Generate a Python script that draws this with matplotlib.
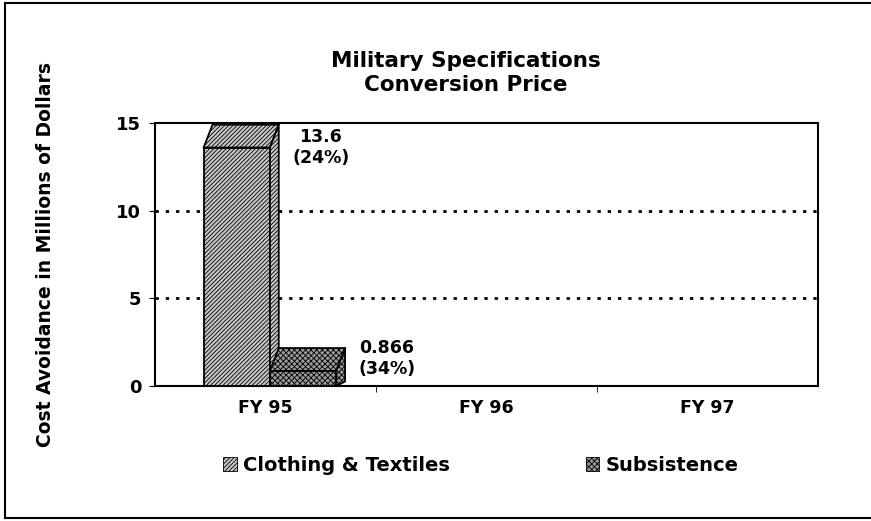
import matplotlib
matplotlib.use('Agg')
import matplotlib.pyplot as plt
from matplotlib.patches import Polygon
from matplotlib.lines import Line2D
import numpy as np

# data
years = ['FY 95', 'FY 96', 'FY 97']
clothing = [13.6, 0, 0]
subsistence = [0.866, 0, 0]
clothing_lbl = ['13.6\n(24%)', '', '']
subsist_lbl = ['0.866\n(34%)', '', '']
yticks = [0, 5, 10, 15]

plt.rcParams['font.family'] = 'DejaVu Sans'
plt.rcParams['hatch.linewidth'] = 0.6

fig = plt.figure(figsize=(8.71, 5.21), dpi=100)
ax = fig.add_axes([0.178, 0.259, 0.761, 0.505])

x = np.arange(len(years)) + 0.5
w = 0.3
dx, dy = 0.04, 1.3   # fake 3d depth

def bar3d(xs, vals, fc, hatch):
    for xi, v in zip(xs, vals):
        if v <= 0:
            continue
        ax.bar(xi, v, w, color=fc, hatch=hatch, edgecolor='black', linewidth=1.3, zorder=3)
        top = [(xi - w/2, v), (xi - w/2 + dx, v + dy), (xi + w/2 + dx, v + dy), (xi + w/2, v)]
        side = [(xi + w/2, 0), (xi + w/2 + dx, dy * 0.2), (xi + w/2 + dx, v + dy), (xi + w/2, v)]
        ax.add_patch(Polygon(top, closed=True, facecolor=fc, hatch=hatch, edgecolor='black', lw=1.3, zorder=3))
        ax.add_patch(Polygon(side, closed=True, facecolor=fc, hatch=hatch, edgecolor='black', lw=1.3, zorder=3))

bar3d(x - w/2 + 0.02, clothing, '#c8c8c8', '////////')
bar3d(x + w/2 + 0.02, subsistence, '#9a9a9a', 'xxxxxx')

# value labels
ax.text(x[0] + 0.25, clothing[0], clothing_lbl[0], ha='center', va='center',
        fontsize=12.5, fontweight='bold', zorder=4)
ax.text(x[0] + 0.55, subsistence[0] + 0.7, subsist_lbl[0], ha='center', va='center',
        fontsize=12.5, fontweight='bold', zorder=4)

ax.set_xlim(0, 3)
ax.set_ylim(0, 15)
ax.set_yticks(yticks)
ax.set_yticklabels([str(v) for v in yticks], fontsize=13, fontweight='bold')
ax.set_xticks(x)
ax.set_xticklabels(years, fontsize=12.5, fontweight='bold')
ax.set_xticks([1, 2], minor=True)
ax.tick_params(axis='x', which='major', length=0, pad=9)
ax.tick_params(axis='x', which='minor', length=4, direction='out')
ax.tick_params(axis='y', length=4, direction='out', pad=6)
for yv in [5, 10]:
    ax.axhline(yv, color='black', linestyle=(0, (1.2, 2.5)), linewidth=2, zorder=1)
for s in ax.spines.values():
    s.set_linewidth(1.5)

ax.set_ylabel('Cost Avoidance in Millions of Dollars', fontsize=13.5, fontweight='bold', labelpad=44)
fig.text(0.535, 0.86, 'Military Specifications\nConversion Price', ha='center', va='center',
         fontsize=15.5, fontweight='bold', linespacing=1.3)

# legend
handles = [plt.Rectangle((0, 0), 1, 1, facecolor='#c8c8c8', hatch='////////', edgecolor='black', lw=0.6),
           plt.Rectangle((0, 0), 1, 1, facecolor='#9a9a9a', hatch='xxxxxx', edgecolor='black', lw=0.6)]
fig.legend(handles, ['Clothing & Textiles', 'Subsistence'], loc='center', ncol=2,
           bbox_to_anchor=(0.552, 0.107), frameon=False, columnspacing=7.0,
           handlelength=0.7, handleheight=0.7, handletextpad=0.3,
           prop={'size': 14, 'weight': 'bold'})

# outer border
fig.add_artist(Line2D([0.006, 0.006], [0.006, 0.994], color='black', lw=1.5))
fig.add_artist(Line2D([0.006, 1.0], [0.994, 0.994], color='black', lw=1.5))
fig.add_artist(Line2D([0.006, 1.0], [0.006, 0.006], color='black', lw=1.5))

plt.savefig('out.png', dpi=100)
plt.close()
